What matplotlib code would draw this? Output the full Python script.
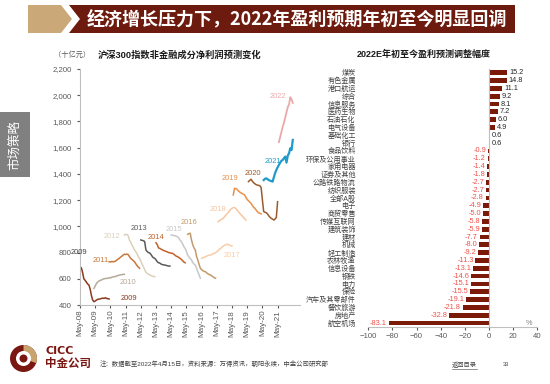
import matplotlib
matplotlib.use('Agg')
import matplotlib.pyplot as plt
import matplotlib.dates as mdates
from matplotlib.patches import Polygon, Rectangle, Circle, Wedge
from matplotlib.ticker import FuncFormatter
import pandas as pd

plt.rcParams['font.family'] = ['Liberation Sans', 'Noto Sans CJK SC']

# ---- left chart: monthly net profit forecasts (bn yuan) for each year ----
profit_2009 = [672, 685, 650, 600, 588, 575, 560, 553, 520, 470, 438, 425, 430, 438,
               443, 445, 447, 450, 452, 451, 455, 450, 448, 446]
profit_2010 = [527, 545, 565, 575, 583, 588, 591, 597, 600, 602, 603, 604, 608, 606,
               612, 614, 616, 618, 622, 625, 628, 630, 632, 633, 634]
profit_2011 = [730, 728, 732, 730, 731, 735, 742, 750, 756, 765, 772, 780, 787, 785,
               788, 785, 770, 756, 748, 738, 730, 715, 700, 690, 680]
profit_2012 = [934, 938, 939, 930, 896, 880, 858, 840, 820, 807, 790, 770, 756, 735,
               712, 692, 670, 650, 641, 635, 629, 625, 620, 618, 616]
profit_2013 = [896, 893, 890, 885, 820, 808, 800, 797, 785, 770, 760, 756, 745, 730,
               722, 720, 712, 708, 706, 705, 702, 699, 697, 697]
profit_2014 = [875, 860, 835, 832, 826, 820, 816, 812, 808, 805, 800, 798, 795, 794,
               788, 780, 772, 769, 762, 756, 748, 738, 728, 722]
profit_2015 = [934, 932, 930, 928, 924, 921, 910, 895, 883, 865, 845, 832, 810, 781,
               768, 755, 743, 725, 712, 705, 680, 654, 630, 604]
profit_2016 = [939, 945, 947, 896, 860, 835, 820, 770, 743, 710, 680, 670, 662, 656,
               654, 645, 638, 632, 629, 622, 615, 608, 604]
profit_2017 = [756, 760, 764, 769, 773, 777, 780, 781, 785, 790, 795, 799, 805, 815,
               825, 832, 840, 848, 855, 858, 865, 860, 858, 852, 850]
profit_2018 = [1035, 1042, 1050, 1055, 1061, 1072, 1085, 1095, 1105, 1120, 1130, 1138,
               1142, 1143, 1135, 1125, 1112, 1100, 1090, 1079, 1068, 1058, 1048]
profit_2019 = [1239, 1290, 1288, 1282, 1270, 1262, 1256, 1250, 1245, 1239, 1222, 1205,
               1195, 1185, 1176, 1160, 1145, 1138, 1125, 1112, 1103, 1099, 1095]
profit_2020 = [1341, 1350, 1359, 1345, 1333, 1325, 1318, 1315, 1312, 1310, 1295, 1201,
               1112, 1108, 1104, 1095, 1080, 1069, 1060, 1055, 1048, 1055, 1069, 1188]
profit_2021 = [1353, 1362, 1366, 1360, 1353, 1348, 1345, 1341, 1375, 1405, 1430, 1450,
               1468, 1485, 1500, 1506, 1520, 1532, 1486, 1540, 1557, 1595, 1582, 1659]
profit_2022 = [1643, 1680, 1720, 1760, 1790, 1830, 1870, 1910, 1930, 1985, 1970, 1941]

year_labels = ['2009', '2010', '2011', '2012', '2013', '2014', '2015', '2016',
               '2017', '2018', '2019', '2020', '2021', '2022']
start_months = ['2008-05', '2009-04', '2010-04', '2011-04', '2012-05', '2013-05',
                '2014-05', '2015-06', '2016-05', '2017-06', '2018-06', '2019-06',
                '2020-06', '2021-06']
profits = [profit_2009, profit_2010, profit_2011, profit_2012, profit_2013, profit_2014,
           profit_2015, profit_2016, profit_2017, profit_2018, profit_2019, profit_2020,
           profit_2021, profit_2022]

# ---- right chart: 2022E forecast revision since start of year (%) ----
sectors = ['煤炭', '有色金属', '港口航运', '综合', '信息服务', '医药生物', '石油石化',
           '电气设备', '基础化工', '银行', '食品饮料', '环保及公用事业', '家用电器',
           '证券及其他', '公路铁路物流', '纺织服装', '全部A股', '电子', '商贸零售',
           '传媒互联网', '建筑装饰', '建材', '机械', '轻工制造', '农林牧渔', '信息设备',
           '钢铁', '电力', '保险', '汽车及其零部件', '餐饮旅游', '房地产', '航空机场']
revisions = [15.2, 14.8, 11.1, 9.2, 8.1, 7.2, 6.0, 4.9, 0.6, 0.6, -0.9, -1.2, -1.4,
             -1.8, -2.7, -2.7, -2.8, -4.9, -5.0, -5.8, -5.9, -7.7, -8.0, -9.2, -11.3,
             -13.1, -14.6, -15.1, -15.5, -19.1, -21.8, -32.8, -83.1]

# styles
line_colors = ['#8B3A1E', '#B5AA98', '#C8773A', '#DCD0BC', '#5A5A5A', '#C0622A',
               '#C8C8C8', '#C49A6C', '#F8CDA8', '#F7C6A0', '#E8904A', '#9C5A2A',
               '#1E9BC8', '#EBA8A8']
line_widths = [1.1] * 12 + [1.6, 1.3]
# label anchor positions (decimal year, value)
label_pos = [(2011.55, 446), (2011.46, 575), (2009.68, 739), (2010.44, 926),
             (2012.24, 980), (2013.36, 915), (2014.5, 976), (2015.53, 1029),
             (2018.36, 776), (2017.41, 1128), (2018.2, 1363), (2019.73, 1405),
             (2021.03, 1491), (2021.32, 1989)]


def dec_year(t):
    y = int(t)
    return pd.Timestamp(f'{y}-01-01') + pd.Timedelta(days=(t - y) * 365.25)


W, H = 550, 384
fig = plt.figure(figsize=(W / 100, H / 100), dpi=100)

# background layer in pixel coords
bg = fig.add_axes([0, 0, 1, 1])
bg.set_xlim(0, W)
bg.set_ylim(H, 0)
bg.axis('off')

bg.add_patch(Polygon([(28, 5), (61, 5), (72, 19), (61, 33), (28, 33)],
                     closed=True, color='#CBA878', lw=0))
bg.add_patch(Polygon([(69, 5), (515, 5), (515, 33), (69, 33), (80, 19)],
                     closed=True, color='#6C1B0E', lw=0))
bg.text(87, 19.5, '经济增长压力下，2022年盈利预期年初至今明显回调', color='white',
        fontsize=13, fontweight='bold', ha='left', va='center',
        family=['Noto Sans CJK SC'])

bg.add_patch(Rectangle((0, 112), 30, 65, color='#808080', lw=0))
bg.text(15, 144.5, '市场策略', color='white', fontsize=9, rotation=90,
        ha='center', va='center', family=['Noto Sans CJK SC'])

bg.text(180, 55, '沪深300指数非金融成分净利润预测变化', fontsize=6.7, fontweight='bold',
        ha='center', va='center', color='#1A1A1A')
bg.text(72, 55, '（十亿元）', fontsize=5.2, ha='center', va='center', color='#595959')
bg.text(424, 54.5, '2022E年初至今盈利预测调整幅度', fontsize=6.5, fontweight='bold',
        ha='center', va='center', color='#1A1A1A')

# footer
bg.add_patch(Circle((23.5, 358.5), 13.5, color='#7A1712', lw=0))
bg.add_patch(Wedge((23.5, 358.5), 13.5, -90, 20, color='#C9A46E', lw=0))
bg.add_patch(Circle((23.5, 358.5), 7.5, color='white', lw=0))
bg.add_patch(Circle((23.5, 358.5), 4, color='#7A1712', lw=0))
bg.text(45, 351.5, 'CICC', fontsize=8, fontweight='bold', color='#7A1712',
        ha='left', va='center', family=['DejaVu Sans'])
bg.text(45, 363.5, '中金公司', fontsize=8.3, fontweight='bold', color='#7A1712',
        ha='left', va='center', family=['Noto Sans CJK SC'])
bg.text(100, 364, '注：数据截至2022年4月15日，资料来源：万得资讯，朝阳永续，中金公司研究部',
        fontsize=4.6, color='#404040', ha='left', va='center')
bg.text(452, 365, '返回目录', fontsize=4.5, color='#404040', ha='left', va='center')
bg.plot([452, 477], [369, 369], color='#404040', lw=0.4)
bg.text(503, 364, '33', fontsize=4, color='#404040', ha='left', va='center')

# ---- left chart ----
ax1 = fig.add_axes([80 / W, 1 - 305 / H, 220 / W, (305 - 69) / H])
for lab, start, vals, c, lw in zip(year_labels, start_months, profits, line_colors, line_widths):
    dates = pd.date_range(start, periods=len(vals), freq='MS')
    ax1.plot(dates, vals, color=c, lw=lw)
for lab, (t, v), c in zip(year_labels, label_pos, line_colors):
    ax1.text(dec_year(t), v, lab, color=c, fontsize=5.4, ha='center', va='center')
ax1.text(dec_year(2008.28), 799, '2009', color='#404040', fontsize=5.4,
         ha='center', va='center', clip_on=False)

x0 = mdates.date2num(pd.Timestamp('2008-05-01'))
ax1.set_xlim(x0, x0 + 220 / 15.2 * 365.25)
ax1.set_ylim(400, 2200)
ax1.set_yticks(range(400, 2201, 200))
ax1.yaxis.set_major_formatter(FuncFormatter(lambda v, p: f'{int(v):,}'))
ax1.set_xticks([pd.Timestamp(f'{y}-05-01') for y in range(2008, 2022)])
ax1.xaxis.set_major_formatter(mdates.DateFormatter('%b-%y'))
ax1.tick_params(axis='x', rotation=90, labelsize=5.8, colors='#595959', length=2, pad=1.5)
ax1.tick_params(axis='y', labelsize=5.6, colors='#595959', length=2, pad=4)
for s in ['top', 'right']:
    ax1.spines[s].set_visible(False)
for s in ['left', 'bottom']:
    ax1.spines[s].set_color('#BFBFBF')
    ax1.spines[s].set_linewidth(0.8)
ax1.patch.set_alpha(0)

# ---- right chart ----
ax2 = fig.add_axes([368.3 / W, 1 - 327 / H, 169 / W, (327 - 68.8) / H])
ypos = range(len(sectors))
ax2.barh(ypos, revisions, height=0.6, color='#7B1A08')
for i, v in enumerate(revisions):
    if v >= 0:
        ax2.text(v + 1.5, i, f'{v:.1f}', ha='left', va='center', fontsize=5.3, color='#262626')
    else:
        ax2.text(v - 1.5, i, f'{v:.1f}', ha='right', va='center', fontsize=5.3, color='#F0504A')
ax2.axvline(0, color='#BFBFBF', lw=0.8)
ax2.text(33, len(sectors) - 1, '%', fontsize=5.3, color='#7F7F7F', ha='center', va='center')
ax2.set_xlim(-100, 40)
ax2.set_ylim(len(sectors) - 0.5, -0.5)
ax2.set_xticks(range(-100, 41, 20))
ax2.set_yticks(list(ypos))
ax2.set_yticklabels(sectors)
ax2.tick_params(axis='y', length=0, pad=9, labelsize=5.1, labelcolor='#404040')
ax2.tick_params(axis='x', length=2.5, labelsize=5.6, colors='#595959', pad=2)
for s in ['top', 'right', 'left']:
    ax2.spines[s].set_visible(False)
ax2.spines['bottom'].set_color('#BFBFBF')
ax2.spines['bottom'].set_linewidth(0.8)
ax2.patch.set_alpha(0)

fig.savefig('out.png', dpi=100)
